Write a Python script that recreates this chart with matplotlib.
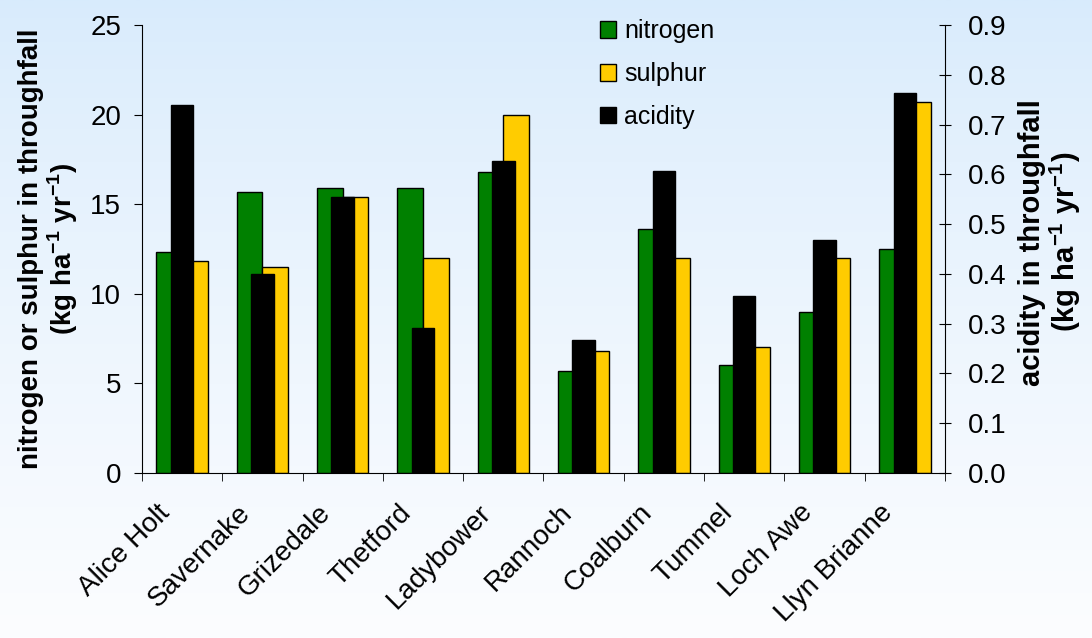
import matplotlib
matplotlib.use("Agg")
import matplotlib.pyplot as plt
import matplotlib.transforms as mtransforms
import numpy as np

plt.rcParams['font.family'] = ['Liberation Sans', 'DejaVu Sans']
plt.rcParams['mathtext.fontset'] = 'custom'
plt.rcParams['mathtext.rm'] = 'Liberation Sans'
plt.rcParams['mathtext.bf'] = 'Liberation Sans:bold'

sites = ['Alice Holt', 'Savernake', 'Grizedale', 'Thetford', 'Ladybower',
         'Rannoch', 'Coalburn', 'Tummel', 'Loch Awe', 'Llyn Brianne']
nitrogen = [12.3, 15.7, 15.9, 15.9, 16.8, 5.7, 13.6, 6.0, 9.0, 12.5]
sulphur = [11.8, 11.5, 15.4, 12.0, 20.0, 6.8, 12.0, 7.0, 12.0, 20.7]
acidity = [0.74, 0.40, 0.555, 0.29, 0.627, 0.266, 0.607, 0.355, 0.467, 0.763]

c_n = '#008000'
c_s = '#ffcc00'
c_a = '#000000'

fig = plt.figure(figsize=(10.92, 6.38), dpi=100)

# background gradient, light blue at the top fading to white
bg = fig.add_axes([0, 0, 1, 1], zorder=-10)
top = np.array([216, 235, 252]) / 255
bot = np.array([252, 253, 255]) / 255
t = np.linspace(0, 1, 256) ** 0.8
grad = top[None, :] * (1 - t[:, None]) + bot[None, :] * t[:, None]
bg.imshow(grad[:, None, :], aspect='auto', extent=[0, 1, 0, 1])
bg.axis('off')

ax = fig.add_axes([0.130, 0.259, 0.7354, 0.7018])
ax.patch.set_visible(False)
ax2 = ax.twinx()
ax2.patch.set_visible(False)

locs = np.arange(len(sites))
w = 0.32
b1 = ax.bar(locs - w / 2, nitrogen, width=w, color=c_n, edgecolor='black', linewidth=1, label='nitrogen')
b2 = ax.bar(locs + w / 2, sulphur, width=w, color=c_s, edgecolor='black', linewidth=1, label='sulphur')
b3 = ax2.bar(locs, acidity, width=0.28, color=c_a, edgecolor='black', linewidth=1, label='acidity')

ax.set_xlim(-0.5, len(sites) - 0.5)
ax.set_ylim(0, 25)
ax.set_yticks(np.arange(0, 26, 5))
ax2.set_ylim(0, 0.9)
ax2.set_yticks(np.arange(0, 0.91, 0.1))
ax2.set_yticklabels(['%.1f' % v for v in np.arange(0, 0.91, 0.1)])

for a in (ax, ax2):
    a.spines['top'].set_visible(False)
ax.spines['right'].set_visible(False)
ax2.spines['left'].set_visible(False)
ax2.spines['bottom'].set_visible(False)

ax.set_xticks(locs)
ax.set_xticks(np.arange(-0.5, len(sites), 1), minor=True)
ax.set_xticklabels(sites, rotation=45, ha='right', va='center', rotation_mode='anchor', fontsize=20)
ax.tick_params(axis='x', which='major', length=0, pad=26)
ax.tick_params(axis='x', which='minor', length=6, direction='out')
ax.tick_params(axis='y', labelsize=20, length=6, direction='out', pad=9)
ax2.tick_params(axis='y', labelsize=20, length=9, direction='inout', pad=12)

shift = mtransforms.ScaledTranslation(-16 / 100, 0, fig.dpi_scale_trans)
for lab in ax.get_xticklabels():
    lab.set_transform(lab.get_transform() + shift)

ax.set_ylabel('nitrogen or sulphur in throughfall\n(kg ha$^{\\mathbf{-1}}$ yr$^{\\mathbf{-1}}$)',
              fontsize=20, fontweight='bold', linespacing=1.05)
ax.yaxis.set_label_coords(-0.077, 0.5)
ax2.set_ylabel('acidity in throughfall\n(kg ha$^{\\mathbf{-1}}$ yr$^{\\mathbf{-1}}$)',
               fontsize=21, fontweight='bold', rotation=90, linespacing=1.05)
ax2.yaxis.set_label_coords(1.091, 0.515)

fig.legend([b1, b2, b3], ['nitrogen', 'sulphur', 'acidity'], loc='upper left',
           bbox_to_anchor=(0.529, 1.005), frameon=False, fontsize=18,
           handlelength=0.65, handleheight=0.65, handletextpad=0.3, labelspacing=0.75)

fig.savefig('out.png', dpi=100)
